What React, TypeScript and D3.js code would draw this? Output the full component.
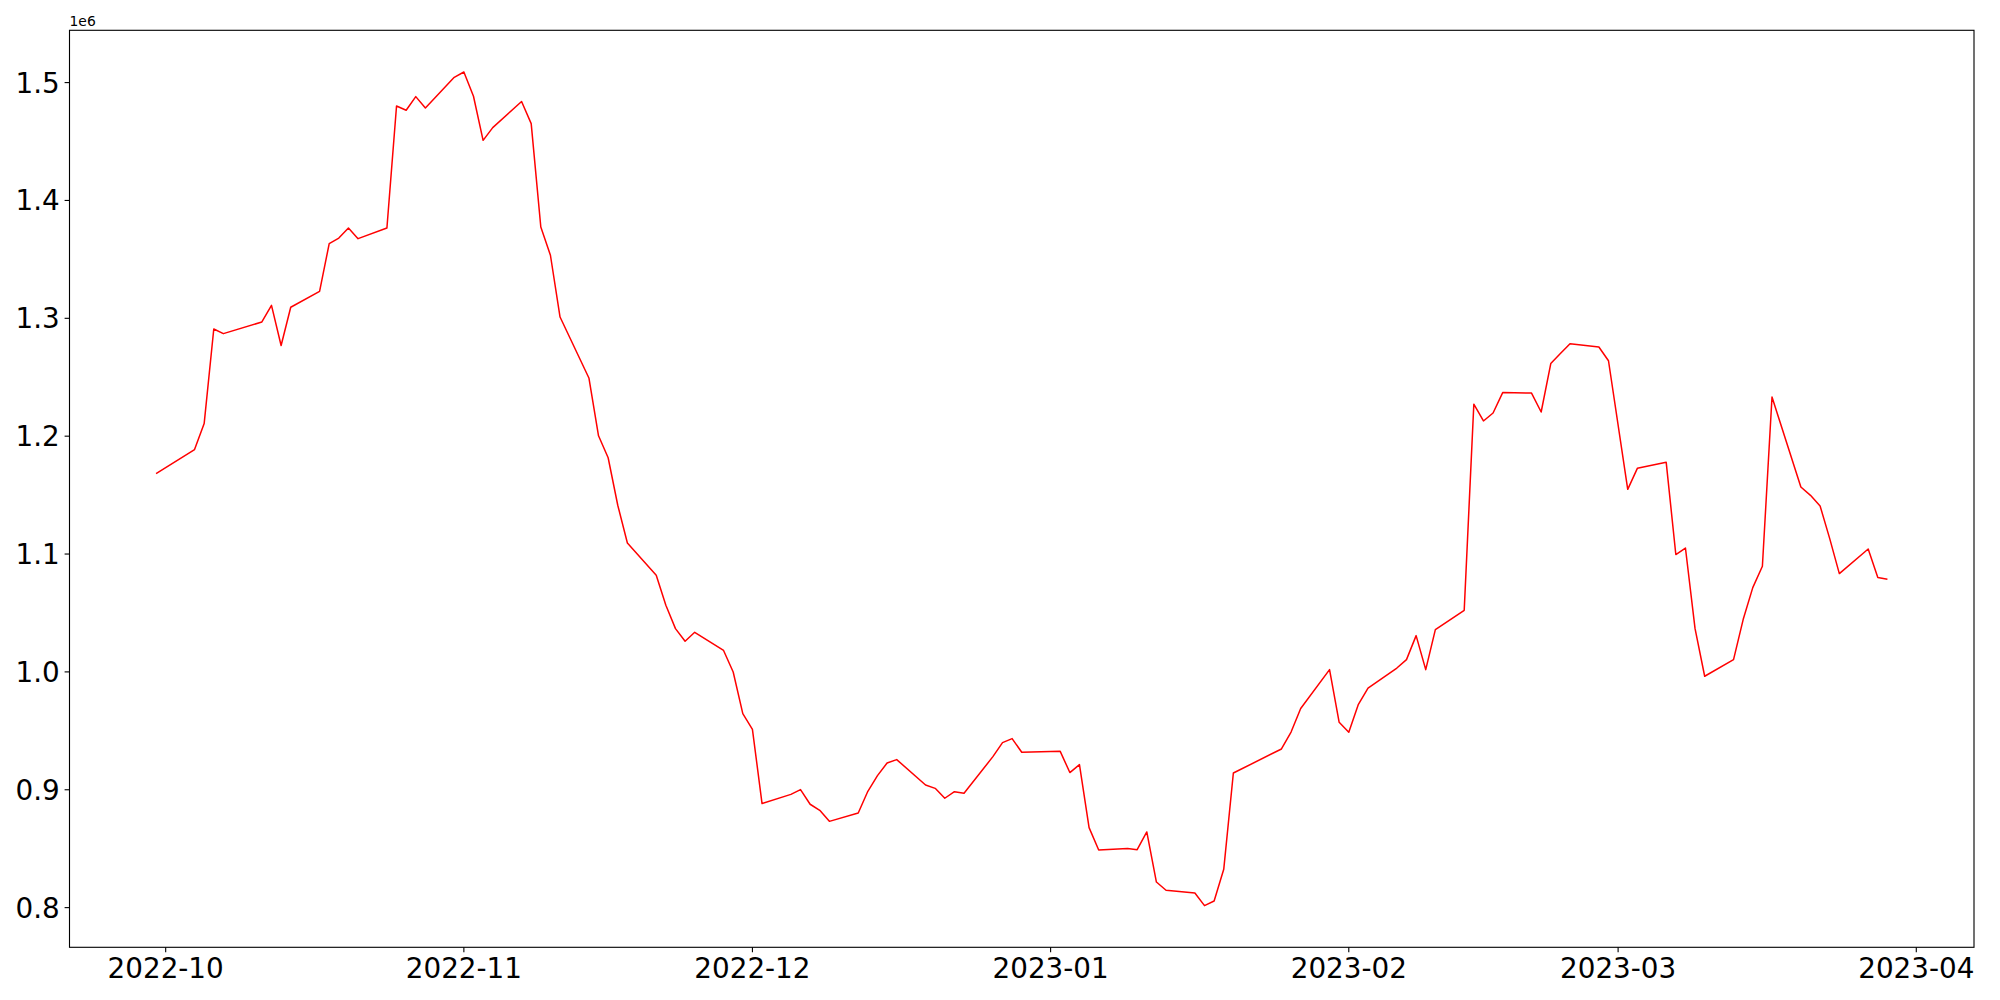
import React from "react";
import * as d3 from "d3";

const dates: string[] = [
  "2022-09-30","2022-10-04","2022-10-05","2022-10-06","2022-10-07","2022-10-11","2022-10-12","2022-10-13","2022-10-14",
  "2022-10-17","2022-10-18","2022-10-19","2022-10-20","2022-10-21","2022-10-24","2022-10-25","2022-10-26","2022-10-27","2022-10-28",
  "2022-10-31","2022-11-01","2022-11-02","2022-11-03","2022-11-04","2022-11-07","2022-11-08","2022-11-09","2022-11-10","2022-11-11",
  "2022-11-14","2022-11-15","2022-11-16","2022-11-17","2022-11-18","2022-11-21","2022-11-22","2022-11-23","2022-11-24","2022-11-25",
  "2022-11-28","2022-11-29","2022-11-30","2022-12-01","2022-12-02","2022-12-05","2022-12-06","2022-12-07","2022-12-08","2022-12-09",
  "2022-12-12","2022-12-13","2022-12-14","2022-12-15","2022-12-16","2022-12-19","2022-12-20","2022-12-21","2022-12-22","2022-12-23",
  "2022-12-26","2022-12-27","2022-12-28","2022-12-29","2023-01-02","2023-01-03","2023-01-04","2023-01-05","2023-01-06",
  "2023-01-09","2023-01-10","2023-01-11","2023-01-12","2023-01-13","2023-01-16","2023-01-17","2023-01-18","2023-01-19","2023-01-20",
  "2023-01-25","2023-01-26","2023-01-27","2023-01-30","2023-01-31","2023-02-01","2023-02-02","2023-02-03",
  "2023-02-06","2023-02-07","2023-02-08","2023-02-09","2023-02-10","2023-02-13","2023-02-14","2023-02-15","2023-02-16","2023-02-17",
  "2023-02-20","2023-02-21","2023-02-22","2023-02-23","2023-02-24","2023-02-27","2023-02-28","2023-03-02","2023-03-03",
  "2023-03-06","2023-03-07","2023-03-08","2023-03-09","2023-03-10","2023-03-13","2023-03-14","2023-03-15","2023-03-16","2023-03-17",
  "2023-03-20","2023-03-21","2023-03-22","2023-03-23","2023-03-24","2023-03-27","2023-03-28","2023-03-29",
];

const values: number[] = [
  1168200, 1188600, 1210700, 1290900, 1287000, 1296900, 1311000, 1276900, 1309400,
  1322900, 1363400, 1368100, 1376600, 1367600, 1376600, 1480100, 1476500, 1488100, 1478400,
  1504500, 1509000, 1488400, 1451000, 1461800, 1483900, 1465200, 1377500, 1353500, 1301100,
  1249400, 1200300, 1181700, 1141400, 1109400, 1082000, 1056500, 1036700, 1026000, 1033600,
  1018200, 999900, 964600, 951300, 888300, 896100, 900100, 887700, 882600, 873200,
  880300, 898700, 912000, 922700, 925600, 904000, 901200, 892800, 898400, 897000,
  928100, 940000, 943400, 931800, 932600, 914600, 921300, 867900, 848900,
  850100, 849200, 864200, 821700, 814700, 812400, 801700, 805600, 832500, 914200,
  934600, 949000, 968900, 1001900, 957200, 948800, 972500, 986300,
  1003300, 1010400, 1030800, 1001900, 1035900, 1052300, 1227100, 1212900, 1219700, 1237000,
  1236600, 1220500, 1261600, 1270100, 1278500, 1275700, 1264000, 1154900, 1172700,
  1177800, 1099600, 1105100, 1036700, 996300, 1010400, 1044400, 1071500, 1089600, 1233200,
  1156900, 1149800, 1140800, 1113100, 1083400, 1104300, 1080000, 1078600,
];

const yTicks: number[] = [800000, 900000, 1000000, 1100000, 1200000, 1300000, 1400000, 1500000];
const xTicks: string[] = ["2022-10-01", "2022-11-01", "2022-12-01", "2023-01-01", "2023-02-01", "2023-03-01", "2023-04-01"];

export default function App() {
  const W = 2000, H = 1000;
  const L = 69.5, R = 1974, T = 30.3, B = 947.3;
  const parse = d3.utcParse("%Y-%m-%d");
  const pts = dates.map((d, i) => ({ t: parse(d) as Date, v: values[i] }));

  const tExt = d3.extent(pts, (p) => +p.t) as [number, number];
  const tPad = (tExt[1] - tExt[0]) * 0.05;
  const x = d3.scaleUtc().domain([new Date(tExt[0] - tPad), new Date(tExt[1] + tPad)]).range([L, R]);

  const vExt = d3.extent(values) as [number, number];
  const vPad = (vExt[1] - vExt[0]) * 0.05;
  const y = d3.scaleLinear().domain([vExt[0] - vPad, vExt[1] + vPad]).range([B, T]);

  const line = d3.line<{ t: Date; v: number }>().x((p) => x(p.t)).y((p) => y(p.v));
  const fmtX = d3.utcFormat("%Y-%m");
  const font = "'DejaVu Sans', sans-serif";
  const fs = 27.8;

  return (
    <svg width={W} height={H} style={{ position: "absolute", left: 0, top: 0, background: "#fff" }} fontFamily={font}>
      <rect x={0} y={0} width={W} height={H} fill="#fff" />
      <path d={line(pts) || ""} fill="none" stroke="#ff0000" strokeWidth={1.5} strokeLinejoin="round" />
      <rect x={L} y={T} width={R - L} height={B - T} fill="none" stroke="#000" strokeWidth={1.11} />
      {yTicks.map((v) => (
        <g key={v}>
          <line x1={L - 4.9} x2={L} y1={y(v)} y2={y(v)} stroke="#000" strokeWidth={1.11} />
          <text x={L - 9.8} y={y(v)} dy="0.36em" textAnchor="end" fontSize={fs} fill="#000">
            {(v / 1e6).toFixed(1)}
          </text>
        </g>
      ))}
      {xTicks.map((s) => {
        const t = parse(s) as Date;
        return (
          <g key={s}>
            <line x1={x(t)} x2={x(t)} y1={B} y2={B + 4.9} stroke="#000" strokeWidth={1.11} />
            <text x={x(t)} y={B + 9.8} dy="0.76em" textAnchor="middle" fontSize={fs} fill="#000">
              {fmtX(t)}
            </text>
          </g>
        );
      })}
      <text x={L} y={T - 4.5} fontSize={13.9} fill="#000">1e6</text>
    </svg>
  );
}
